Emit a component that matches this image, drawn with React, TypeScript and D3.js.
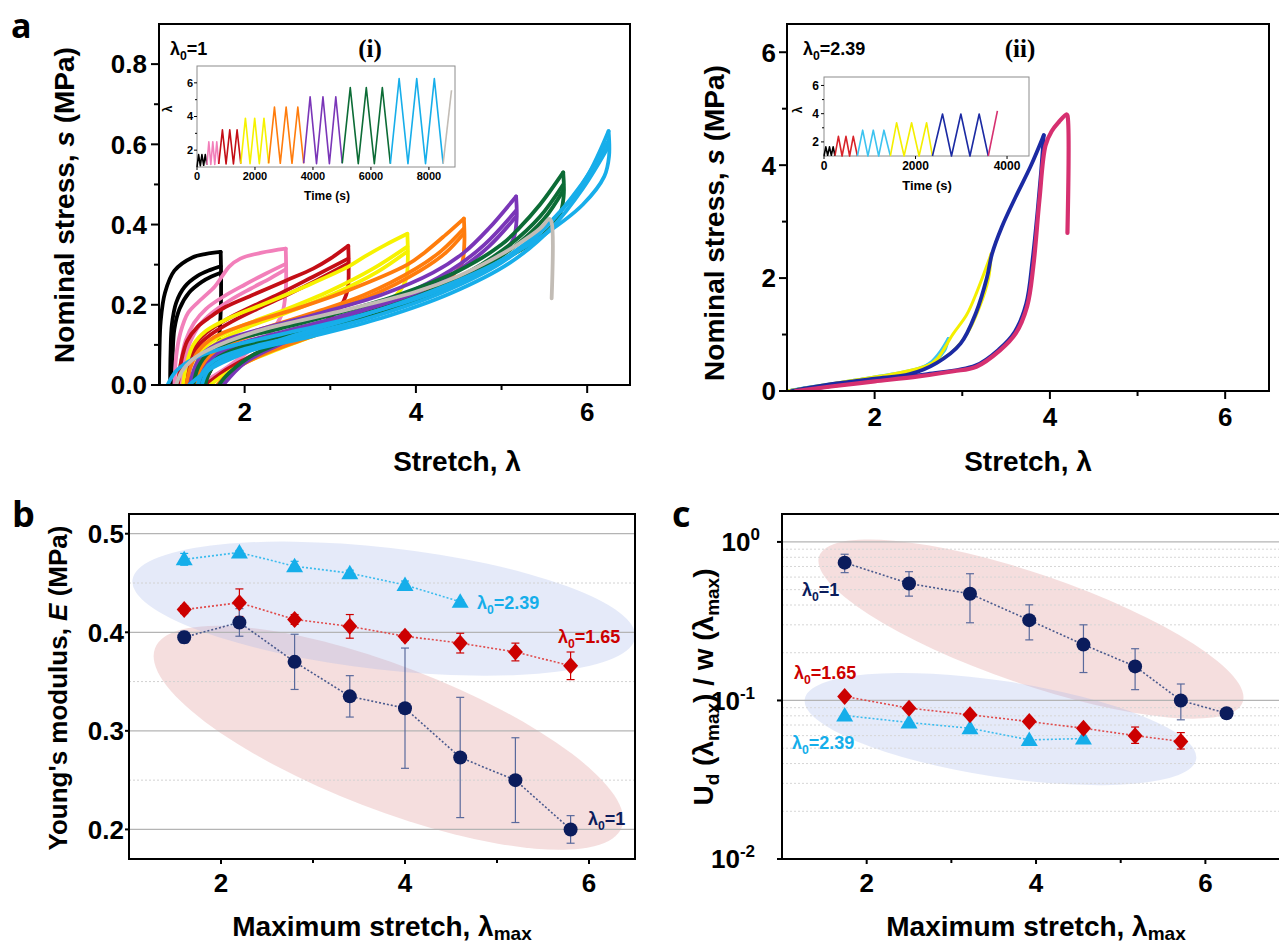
import * as d3 from 'd3'

type Pt = [number, number]

const SANS = '"Liberation Sans", Arial, Helvetica, sans-serif'
const SERIF = '"Liberation Serif", "Times New Roman", serif'

// ---------- a(i): nominal stress vs stretch, λ0 = 1 (load1, load2, load3, unload) ----------
const blackLoopsI: Pt[][] = [
  [[1.0, 0], [1.005, 0.08], [1.02, 0.16], [1.07, 0.23], [1.18, 0.285], [1.39, 0.318], [1.55, 0.327], [1.72, 0.332]],
  [[1.13, 0], [1.135, 0.08], [1.15, 0.15], [1.2, 0.205], [1.3, 0.245], [1.45, 0.272], [1.6, 0.287], [1.72, 0.296]],
  [[1.15, 0], [1.16, 0.08], [1.18, 0.14], [1.24, 0.19], [1.35, 0.23], [1.5, 0.257], [1.62, 0.271], [1.72, 0.28]],
  [[1.72, 0.332], [1.725, 0.27], [1.72, 0.18], [1.69, 0.1], [1.61, 0.04], [1.5, 0]],
]
const pinkLoopsI: Pt[][] = [
  [[1.18, 0], [1.2, 0.07], [1.25, 0.13], [1.34, 0.18], [1.5, 0.215], [1.65, 0.245], [1.74, 0.272], [1.82, 0.295], [1.95, 0.315], [2.2, 0.33], [2.48, 0.34]],
  [[1.23, 0], [1.26, 0.06], [1.31, 0.11], [1.41, 0.155], [1.55, 0.19], [1.75, 0.22], [2.0, 0.25], [2.25, 0.278], [2.48, 0.302]],
  [[1.27, 0], [1.3, 0.06], [1.36, 0.105], [1.47, 0.148], [1.62, 0.18], [1.82, 0.21], [2.07, 0.24], [2.3, 0.266], [2.48, 0.288]],
  [[2.48, 0.34], [2.485, 0.28], [2.48, 0.237], [2.44, 0.18], [2.3, 0.13], [2.05, 0.085], [1.8, 0.045], [1.58, 0.015], [1.46, 0]],
]
const redLoopsI: Pt[][] = [
  [[1.22, 0], [1.26, 0.06], [1.33, 0.11], [1.45, 0.145], [1.6, 0.17], [1.78, 0.195], [2.1, 0.225], [2.48, 0.26], [2.8, 0.29], [3.0, 0.315], [3.21, 0.347]],
  [[1.3, 0], [1.34, 0.055], [1.42, 0.1], [1.55, 0.13], [1.8, 0.165], [2.1, 0.197], [2.45, 0.232], [2.8, 0.27], [3.21, 0.315]],
  [[1.33, 0], [1.37, 0.055], [1.45, 0.095], [1.6, 0.125], [1.85, 0.158], [2.15, 0.19], [2.5, 0.225], [2.85, 0.262], [3.21, 0.303]],
  [[3.21, 0.347], [3.215, 0.29], [3.2, 0.235], [3.1, 0.19], [2.85, 0.145], [2.5, 0.11], [2.1, 0.075], [1.8, 0.04], [1.6, 0.01], [1.52, 0]],
]
const yellowLoopsI: Pt[][] = [
  [[1.28, 0], [1.32, 0.05], [1.4, 0.1], [1.55, 0.135], [1.8, 0.165], [2.2, 0.2], [2.7, 0.245], [3.21, 0.295], [3.4, 0.32], [3.65, 0.35], [3.9, 0.377]],
  [[1.38, 0], [1.43, 0.05], [1.52, 0.09], [1.7, 0.12], [2.0, 0.15], [2.5, 0.19], [3.0, 0.235], [3.5, 0.29], [3.9, 0.345]],
  [[1.41, 0], [1.46, 0.05], [1.56, 0.085], [1.75, 0.115], [2.05, 0.145], [2.55, 0.185], [3.05, 0.228], [3.55, 0.282], [3.9, 0.333]],
  [[3.9, 0.377], [3.905, 0.31], [3.88, 0.26], [3.75, 0.22], [3.4, 0.175], [2.9, 0.13], [2.4, 0.09], [2.0, 0.055], [1.72, 0.02], [1.6, 0]],
]
const orangeLoopsI: Pt[][] = [
  [[1.32, 0], [1.37, 0.045], [1.46, 0.085], [1.65, 0.12], [2.0, 0.15], [2.6, 0.19], [3.2, 0.235], [3.9, 0.3], [4.1, 0.33], [4.35, 0.375], [4.56, 0.415]],
  [[1.42, 0], [1.48, 0.045], [1.58, 0.08], [1.8, 0.11], [2.2, 0.14], [2.8, 0.18], [3.4, 0.225], [4.0, 0.29], [4.3, 0.335], [4.56, 0.39]],
  [[1.45, 0], [1.51, 0.045], [1.62, 0.077], [1.85, 0.105], [2.25, 0.135], [2.85, 0.175], [3.45, 0.22], [4.05, 0.285], [4.35, 0.33], [4.56, 0.378]],
  [[4.56, 0.415], [4.565, 0.35], [4.53, 0.3], [4.35, 0.26], [3.9, 0.21], [3.3, 0.16], [2.7, 0.115], [2.2, 0.075], [1.85, 0.035], [1.68, 0]],
]
const purpleLoopsI: Pt[][] = [
  [[1.36, 0], [1.42, 0.045], [1.52, 0.08], [1.75, 0.11], [2.2, 0.14], [2.9, 0.18], [3.6, 0.225], [4.2, 0.28], [4.56, 0.33], [4.85, 0.39], [5.17, 0.47]],
  [[1.46, 0], [1.53, 0.04], [1.65, 0.072], [1.9, 0.1], [2.4, 0.13], [3.1, 0.17], [3.8, 0.22], [4.4, 0.285], [4.8, 0.35], [5.17, 0.435]],
  [[1.5, 0], [1.57, 0.04], [1.7, 0.07], [1.95, 0.097], [2.45, 0.126], [3.15, 0.166], [3.85, 0.215], [4.45, 0.28], [4.85, 0.345], [5.17, 0.42]],
  [[5.17, 0.47], [5.175, 0.41], [5.13, 0.36], [4.9, 0.31], [4.4, 0.255], [3.7, 0.195], [3.0, 0.145], [2.4, 0.1], [2.0, 0.055], [1.75, 0]],
]
const greenLoopsI: Pt[][] = [
  [[1.4, 0], [1.46, 0.045], [1.58, 0.08], [1.85, 0.11], [2.4, 0.14], [3.1, 0.18], [3.8, 0.225], [4.5, 0.285], [5.0, 0.35], [5.2, 0.39], [5.45, 0.45], [5.72, 0.53]],
  [[1.5, 0], [1.57, 0.04], [1.7, 0.07], [2.0, 0.098], [2.6, 0.13], [3.3, 0.17], [4.0, 0.22], [4.6, 0.28], [5.1, 0.35], [5.45, 0.42], [5.72, 0.5]],
  [[1.54, 0], [1.61, 0.04], [1.75, 0.068], [2.05, 0.095], [2.65, 0.127], [3.35, 0.167], [4.05, 0.216], [4.65, 0.276], [5.15, 0.345], [5.5, 0.415], [5.72, 0.485]],
  [[5.72, 0.53], [5.725, 0.47], [5.67, 0.42], [5.4, 0.36], [4.8, 0.29], [4.1, 0.225], [3.3, 0.17], [2.6, 0.12], [2.1, 0.075], [1.82, 0.03], [1.7, 0]],
]
const cyanLoopsI: Pt[][] = [
  [[1.1, 0], [1.2, 0.035], [1.4, 0.065], [1.8, 0.095], [2.4, 0.125], [3.2, 0.165], [4.0, 0.215], [4.7, 0.275], [5.2, 0.34], [5.72, 0.44], [6.0, 0.52], [6.25, 0.633]],
  [[1.45, 0], [1.52, 0.035], [1.65, 0.062], [2.0, 0.09], [2.7, 0.125], [3.5, 0.17], [4.3, 0.23], [5.0, 0.305], [5.5, 0.39], [5.9, 0.49], [6.25, 0.61]],
  [[1.5, 0], [1.57, 0.035], [1.72, 0.06], [2.1, 0.088], [2.8, 0.122], [3.6, 0.167], [4.4, 0.228], [5.1, 0.305], [5.6, 0.395], [5.95, 0.49], [6.25, 0.595]],
  [[6.25, 0.633], [6.255, 0.57], [6.2, 0.52], [5.95, 0.45], [5.5, 0.375], [4.9, 0.3], [4.2, 0.235], [3.4, 0.175], [2.6, 0.125], [2.0, 0.08], [1.6, 0.04], [1.35, 0]],
]
const failI: Pt[] = [
  [1.2, 0], [1.27, 0.035], [1.4, 0.065], [1.57, 0.087], [2.16, 0.135], [3.0, 0.178], [3.99, 0.232], [4.5, 0.272],
  [4.88, 0.312], [5.2, 0.352], [5.45, 0.39], [5.56, 0.414], [5.585, 0.405], [5.585, 0.216],
]

// inset (i): stretch history [time (s), λ]
const blackHistI: Pt[] = [[0, 1], [55, 1.74], [115, 1.08], [170, 1.74], [230, 1.1], [285, 1.74], [340, 1.12]]
const pinkHistI: Pt[] = [[340, 1.12], [408, 2.49], [477, 1.15], [545, 2.49], [613, 1.15], [682, 2.49], [750, 1.18]]
const redHistI: Pt[] = [[750, 1.18], [877, 3.21], [1003, 1.18], [1130, 3.21], [1257, 1.18], [1383, 3.21], [1510, 1.2]]
const yellowHistI: Pt[] = [[1510, 1.2], [1670, 3.9], [1830, 1.2], [1990, 3.9], [2150, 1.2], [2310, 3.9], [2470, 1.22]]
const orangeHistI: Pt[] = [[2470, 1.22], [2672, 4.56], [2873, 1.22], [3075, 4.56], [3277, 1.22], [3478, 4.56], [3680, 1.22]]
const purpleHistI: Pt[] = [[3680, 1.22], [3902, 5.17], [4123, 1.2], [4345, 5.17], [4567, 1.2], [4788, 5.17], [5010, 1.22]]
const greenHistI: Pt[] = [[5010, 1.22], [5287, 5.72], [5563, 1.2], [5840, 5.72], [6117, 1.2], [6393, 5.72], [6670, 1.2]]
const cyanHistI: Pt[] = [[6670, 1.2], [6973, 6.25], [7277, 1.2], [7580, 6.25], [7883, 1.2], [8187, 6.25], [8490, 1.2]]
const grayHistI: Pt[] = [[8490, 1.2], [8780, 5.56]]

// ---------- a(ii): λ0 = 2.39 ----------
const blackLoopsII: Pt[][] = [
  [[1.0, 0], [1.3, 0.07], [1.65, 0.14]],
  [[1.65, 0.14], [1.4, 0.07], [1.05, 0]],
]
const redLoopsII: Pt[][] = [
  [[1.0, 0], [1.5, 0.1], [2.0, 0.2], [2.39, 0.27]],
  [[2.39, 0.27], [2.0, 0.18], [1.5, 0.08], [1.05, 0]],
]
const cyanLoopsII: Pt[][] = [
  [[1.0, 0], [1.3, 0.08], [1.7, 0.17], [2.0, 0.23], [2.3, 0.3], [2.5, 0.38], [2.65, 0.52], [2.75, 0.7], [2.84, 0.93]],
  [[2.84, 0.93], [2.8, 0.72], [2.7, 0.55], [2.5, 0.4], [2.2, 0.3], [1.8, 0.2], [1.4, 0.09], [1.1, 0]],
]
const yellowLoopsII: Pt[][] = [
  [[1.0, 0], [1.4, 0.1], [1.8, 0.2], [2.2, 0.28], [2.5, 0.37], [2.7, 0.55], [2.89, 1.0], [3.05, 1.35], [3.16, 1.73], [3.33, 2.43]],
  [[3.33, 2.43], [3.3, 2.0], [3.2, 1.5], [3.05, 1.0], [2.85, 0.65], [2.6, 0.45], [2.3, 0.33], [1.9, 0.22], [1.5, 0.11], [1.12, 0]],
]
const blueLoopsII: Pt[][] = [
  [[1.05, 0], [1.5, 0.12], [2.0, 0.22], [2.4, 0.3], [2.71, 0.5], [2.98, 0.84], [3.16, 1.4], [3.28, 2.0], [3.34, 2.43], [3.45, 2.9], [3.61, 3.44], [3.78, 3.98], [3.93, 4.53]],
  [[3.93, 4.53], [3.9, 3.9], [3.86, 3.2], [3.8, 2.3], [3.73, 1.55], [3.6, 1.05], [3.42, 0.74], [3.15, 0.45], [2.6, 0.3], [2.0, 0.2], [1.5, 0.09], [1.15, 0]],
]
const pinkLoadII: Pt[] = [
  [1.1, 0], [1.5, 0.08], [2.0, 0.17], [2.5, 0.26], [2.9, 0.35], [3.16, 0.43], [3.43, 0.72], [3.61, 1.02], [3.74, 1.5],
  [3.81, 2.2], [3.88, 3.38], [3.95, 4.35], [4.02, 4.6], [4.1, 4.76], [4.19, 4.9], [4.2, 4.88], [4.2, 2.8],
]

// inset (ii): stretch history [time (s), λ]
const blackHistII: Pt[] = [[0, 1], [40, 1.65], [80, 1.05], [120, 1.65], [160, 1.05], [200, 1.65], [240, 1.02]]
const redHistII: Pt[] = [[240, 1.02], [315, 2.39], [395, 1.0], [480, 2.39], [560, 1.0], [640, 2.39], [730, 1.0]]
const cyanHistII: Pt[] = [[730, 1.0], [845, 2.83], [960, 1.0], [1077, 2.83], [1195, 1.0], [1310, 2.83], [1450, 1.0]]
const yellowHistII: Pt[] = [[1450, 1.0], [1587, 3.36], [1750, 1.0], [1914, 3.36], [2078, 1.0], [2242, 3.36], [2370, 1.0]]
const blueHistII: Pt[] = [[2370, 1.0], [2590, 3.98], [2786, 1.0], [2991, 3.98], [3190, 1.0], [3391, 3.98], [3590, 1.0]]
const pinkHistII: Pt[] = [[3590, 1.0], [3790, 4.2]]

// ---------- b: Young's modulus vs maximum stretch ----------
const lamB = [1.6, 2.2, 2.8, 3.4, 4.0, 4.6, 5.2, 5.8]
const modB1 = [0.395, 0.41, 0.37, 0.335, 0.323, 0.273, 0.25, 0.2]
const errB1 = [0.006, 0.014, 0.028, 0.021, 0.061, 0.061, 0.043, 0.014]
const modB165 = [0.423, 0.43, 0.413, 0.406, 0.396, 0.389, 0.38, 0.366]
const errB165 = [0.004, 0.014, 0.005, 0.012, 0.004, 0.01, 0.009, 0.014]
const lamB239 = [1.6, 2.2, 2.8, 3.4, 4.0, 4.6]
const modB239 = [0.474, 0.481, 0.467, 0.46, 0.448, 0.431]
const errB239 = [0.006, 0.002, 0.005, 0.003, 0.004, 0.002]

// ---------- c: dissipated energy ratio (log) ----------
const lamC = [1.74, 2.5, 3.22, 3.92, 4.56, 5.17, 5.71, 6.25]
const udC1 = [0.74, 0.547, 0.471, 0.321, 0.225, 0.164, 0.1, 0.083]
const udC1Lo = [0.64, 0.455, 0.309, 0.241, 0.15, 0.117, 0.0755, 0.083]
const udC1Hi = [0.836, 0.649, 0.63, 0.401, 0.3, 0.212, 0.127, 0.083]
const lamC165 = [1.74, 2.5, 3.22, 3.92, 4.56, 5.17, 5.71]
const udC165 = [0.106, 0.0894, 0.0812, 0.0736, 0.0668, 0.06, 0.0551]
const udC165Lo = [0.106, 0.0894, 0.0812, 0.0736, 0.0668, 0.0536, 0.0494]
const udC165Hi = [0.106, 0.0894, 0.0812, 0.0736, 0.0668, 0.068, 0.0627]
const lamC239 = [1.74, 2.5, 3.22, 3.92, 4.56]
const udC239 = [0.0804, 0.0726, 0.0668, 0.0564, 0.0575]

// ---------- scales ----------
const xI = d3.scaleLinear().domain([1, 6.5]).range([159, 630])
const yI = d3.scaleLinear().domain([0, 0.9]).range([385, 24])
const xIn1 = d3.scaleLinear().domain([0, 8900]).range([197, 455])
const yIn1 = d3.scaleLinear().domain([1, 7]).range([167, 66])
const xII = d3.scaleLinear().domain([1, 6.5]).range([787, 1269])
const yII = d3.scaleLinear().domain([0, 6.5]).range([391, 24])
const xIn2 = d3.scaleLinear().domain([0, 4480]).range([824, 1029])
const yIn2 = d3.scaleLinear().domain([1, 6.6]).range([156, 77])
const xB = d3.scaleLinear().domain([1, 6.5]).range([129, 635])
const yB = d3.scaleLinear().domain([0.17, 0.52]).range([859, 514])
const xC = d3.scaleLinear().domain([1, 7.2]).range([782, 1307])
const yC = d3.scaleLog().domain([0.01, 1.5]).range([859, 514])

const NAVY = '#0b1c5c'
const RED = '#cc0000'
const CYAN = '#15aeea'

const mkLine = (sx: any, sy: any, smooth = true) =>
  d3.line<Pt>().x((d) => sx(d[0])).y((d) => sy(d[1])).curve(smooth ? d3.curveCatmullRom.alpha(0.5) : d3.curveLinear)

function XAxis({ sx, y, major, minor = [], fmt, len = 8, mlen = 5, fs = 26, ly, sw = 2 }: any) {
  return (
    <g>
      {major.map((v: number) => (
        <line key={'M' + v} x1={sx(v)} x2={sx(v)} y1={y} y2={y + len} stroke="#000" strokeWidth={sw} />
      ))}
      {minor.map((v: number) => (
        <line key={'m' + v} x1={sx(v)} x2={sx(v)} y1={y} y2={y + mlen} stroke="#000" strokeWidth={sw} />
      ))}
      {major.map((v: number) => (
        <text key={'t' + v} x={sx(v)} y={ly} textAnchor="middle" fontSize={fs} fontWeight="bold" fontFamily={SANS}>
          {fmt(v)}
        </text>
      ))}
    </g>
  )
}

function YAxis({ sy, x, major, minor = [], fmt, len = 8, mlen = 5, fs = 26, lx, sw = 2 }: any) {
  return (
    <g>
      {major.map((v: number) => (
        <line key={'M' + v} x1={x - len} x2={x} y1={sy(v)} y2={sy(v)} stroke="#000" strokeWidth={sw} />
      ))}
      {minor.map((v: number) => (
        <line key={'m' + v} x1={x - mlen} x2={x} y1={sy(v)} y2={sy(v)} stroke="#000" strokeWidth={sw} />
      ))}
      {fmt &&
        major.map((v: number) => (
          <text key={'t' + v} x={lx} y={sy(v)} dy="0.36em" textAnchor="end" fontSize={fs} fontWeight="bold" fontFamily={SANS}>
            {fmt(v)}
          </text>
        ))}
    </g>
  )
}

function Lam0({ x, y, val, color, fs = 18 }: any) {
  return (
    <text x={x} y={y} fill={color} fontSize={fs} fontWeight="bold" fontFamily={SANS}>
      λ<tspan fontSize={fs * 0.68} dy={fs * 0.3}>0</tspan>
      <tspan dy={-fs * 0.3}>={val}</tspan>
    </text>
  )
}

function LoopGroup({ loops, color, sx, sy, w }: any) {
  const line = mkLine(sx, sy)
  return (
    <g fill="none" stroke={color} strokeWidth={w} strokeLinejoin="round" strokeLinecap="round">
      {loops.map((l: Pt[], i: number) => (
        <path key={i} d={line(l) ?? ''} />
      ))}
    </g>
  )
}

function History({ series, sx, sy, w = 1.5 }: any) {
  const line = mkLine(sx, sy, false)
  return (
    <g fill="none" strokeWidth={w} strokeLinejoin="round">
      {series.map((s: any, i: number) => (
        <path key={i} d={line(s.data) ?? ''} stroke={s.color} />
      ))}
    </g>
  )
}

function Markers({ xs, ys, sx, sy, shape, color }: any) {
  return (
    <g fill={color}>
      {xs.map((v: number, i: number) => {
        const cx = sx(v)
        const cy = sy(ys[i])
        if (shape === 'circle') return <circle key={i} cx={cx} cy={cy} r={7} />
        if (shape === 'diamond')
          return <path key={i} d={`M${cx},${cy - 8.5}L${cx + 7.5},${cy}L${cx},${cy + 8.5}L${cx - 7.5},${cy}Z`} />
        return <path key={i} d={`M${cx},${cy - 8.5}L${cx + 8.5},${cy + 6}L${cx - 8.5},${cy + 6}Z`} />
      })}
    </g>
  )
}

function ErrBars({ xs, lo, hi, sx, sy, color }: any) {
  return (
    <g stroke={color} strokeWidth={1.2}>
      {xs.map((v: number, i: number) => {
        const cx = sx(v)
        const y1 = sy(hi[i])
        const y2 = sy(lo[i])
        if (Math.abs(y2 - y1) < 1) return null
        return (
          <g key={i}>
            <line x1={cx} x2={cx} y1={y1} y2={y2} />
            <line x1={cx - 4} x2={cx + 4} y1={y1} y2={y1} />
            <line x1={cx - 4} x2={cx + 4} y1={y2} y2={y2} />
          </g>
        )
      })}
    </g>
  )
}

function DotLine({ xs, ys, sx, sy, color }: any) {
  const pts: Pt[] = xs.map((v: number, i: number) => [v, ys[i]])
  return <path d={mkLine(sx, sy, false)(pts) ?? ''} fill="none" stroke={color} strokeWidth={1.6} strokeDasharray="2 2" />
}

function Ellipse({ cx, cy, rx, ry, angle, fill }: any) {
  return <ellipse cx={cx} cy={cy} rx={rx} ry={ry} fill={fill} transform={`rotate(${angle} ${cx} ${cy})`} />
}

export default function App() {
  const f1 = (v: number) => v.toFixed(1)
  const fI = (v: number) => String(v)
  const colorsI = ['#000000', '#f27fba', '#c40e16', '#f6f200', '#ff7c0c', '#7a36b8', '#0c6c36', '#17aeea']
  const loopsI = [blackLoopsI, pinkLoopsI, redLoopsI, yellowLoopsI, orangeLoopsI, purpleLoopsI, greenLoopsI, cyanLoopsI]
  const histI = [blackHistI, pinkHistI, redHistI, yellowHistI, orangeHistI, purpleHistI, greenHistI, cyanHistI, grayHistI].map(
    (data, i) => ({ data, color: i < 8 ? colorsI[i] : '#c2bcb5' })
  )
  const colorsII = ['#000000', '#d8232a', '#3dc3f0', '#f4ef00', '#1b2aa3']
  const loopsII = [blackLoopsII, redLoopsII, cyanLoopsII, yellowLoopsII, blueLoopsII]
  const histII = [blackHistII, redHistII, cyanHistII, yellowHistII, blueHistII, pinkHistII].map((data, i) => ({
    data,
    color: i < 5 ? colorsII[i] : '#d63070',
  }))

  const bBluePt = [xB(3.77), yB(0.424)]
  const bPinkPt = [xB(3.82), yB(0.293)]
  const cPinkPt = [xC(3.94), yC(0.282)]
  const cBluePt = [xC(3.58), yC(0.066)]

  const cMinor: number[] = []
  for (const dec of [0.01, 0.1]) for (let k = 2; k <= 9; k++) cMinor.push(dec * k)

  return (
    <svg
      width={1279}
      height={946}
      style={{ position: 'absolute', left: 0, top: 0, display: 'block', background: '#fff' }}
      fontFamily={SANS}
    >
      <defs>
        <clipPath id="clipI">
          <rect x={159} y={24} width={471} height={361} />
        </clipPath>
        <clipPath id="clipII">
          <rect x={787} y={24} width={482} height={367} />
        </clipPath>
        <clipPath id="clipB">
          <rect x={129} y={514} width={506} height={345} />
        </clipPath>
        <clipPath id="clipC">
          <rect x={782} y={514} width={525} height={345} />
        </clipPath>
      </defs>

      {/* panel letters */}
      <text x={11} y={38} fontSize={34} fontWeight="bold" fontFamily='"Open Sans", sans-serif'>a</text>
      <text x={12} y={527} fontSize={36} fontWeight="bold" fontFamily='"Open Sans", sans-serif'>b</text>
      <text x={672} y={527} fontSize={36} fontWeight="bold" fontFamily='"Open Sans", sans-serif'>c</text>

      {/* ===== a(i) ===== */}
      <g clipPath="url(#clipI)">
        {loopsI.map((l, i) => (
          <LoopGroup key={i} loops={l} color={colorsI[i]} sx={xI} sy={yI} w={3.8} />
        ))}
        <LoopGroup loops={[failI]} color="#c2bcb5" sx={xI} sy={yI} w={3.8} />
      </g>
      <rect x={159} y={24} width={471} height={361} fill="none" stroke="#000" strokeWidth={2} />
      <XAxis sx={xI} y={385} major={[2, 4, 6]} minor={[3, 5]} fmt={fI} ly={421} />
      <YAxis sy={yI} x={159} major={[0, 0.2, 0.4, 0.6, 0.8]} minor={[0.1, 0.3, 0.5, 0.7]} fmt={f1} lx={147} />
      <text transform="translate(64,205) rotate(-90)" dy="0.36em" textAnchor="middle" fontSize={28} fontWeight="bold">
        Nominal stress, <tspan fontStyle="italic">s</tspan> (MPa)
      </text>
      <text x={457} y={471} textAnchor="middle" fontSize={28} fontWeight="bold">Stretch, λ</text>
      <Lam0 x={170} y={55} val="1" color="#000" />
      <text x={370} y={57} textAnchor="middle" fontSize={25} fontWeight="bold" fontFamily={SERIF}>(i)</text>

      {/* inset (i) */}
      <rect x={197} y={66} width={258} height={101} fill="#fff" stroke="#8c8c8c" strokeWidth={1} />
      <History series={histI} sx={xIn1} sy={yIn1} w={1.6} />
      <XAxis sx={xIn1} y={167} major={[0, 2000, 4000, 6000, 8000]} fmt={fI} len={3} fs={11} ly={180} sw={1} />
      <YAxis sy={yIn1} x={197} major={[2, 4, 6]} minor={[3, 5]} fmt={fI} len={3} mlen={2} fs={11} lx={193} sw={1} />
      <text x={327} y={200} textAnchor="middle" fontSize={12} fontWeight="bold">Time (s)</text>
      <text transform="translate(168,109) rotate(-90)" dy="0.36em" textAnchor="middle" fontSize={12} fontWeight="bold">λ</text>

      {/* ===== a(ii) ===== */}
      <g clipPath="url(#clipII)">
        {loopsII.map((l, i) => (
          <LoopGroup key={i} loops={l} color={colorsII[i]} sx={xII} sy={yII} w={i === 4 ? 3.8 : 3} />
        ))}
        <LoopGroup loops={[pinkLoadII]} color="#d63070" sx={xII} sy={yII} w={4.2} />
      </g>
      <rect x={787} y={24} width={482} height={367} fill="none" stroke="#000" strokeWidth={2} />
      <XAxis sx={xII} y={391} major={[2, 4, 6]} minor={[3, 5]} fmt={fI} ly={426} />
      <YAxis sy={yII} x={787} major={[0, 2, 4, 6]} minor={[1, 3, 5]} fmt={fI} lx={776} />
      <text transform="translate(714,223) rotate(-90)" dy="0.36em" textAnchor="middle" fontSize={28} fontWeight="bold">
        Nominal stress, <tspan fontStyle="italic">s</tspan> (MPa)
      </text>
      <text x={1028} y={471} textAnchor="middle" fontSize={28} fontWeight="bold">Stretch, λ</text>
      <Lam0 x={803} y={55} val="2.39" color="#000" />
      <text x={1020} y={57} textAnchor="middle" fontSize={25} fontWeight="bold" fontFamily={SERIF}>(ii)</text>

      {/* inset (ii) */}
      <rect x={824} y={77} width={205} height={79} fill="#fff" stroke="#8c8c8c" strokeWidth={1} />
      <History series={histII} sx={xIn2} sy={yIn2} w={1.6} />
      <XAxis sx={xIn2} y={156} major={[0, 2000, 4000]} fmt={fI} len={3} fs={12} ly={170} sw={1} />
      <YAxis sy={yIn2} x={824} major={[2, 4, 6]} minor={[3, 5]} fmt={fI} len={3} mlen={2} fs={12} lx={819} sw={1} />
      <text x={927} y={190} textAnchor="middle" fontSize={13} fontWeight="bold">Time (s)</text>
      <text transform="translate(798,110) rotate(-90)" dy="0.36em" textAnchor="middle" fontSize={12} fontWeight="bold">λ</text>

      {/* ===== b ===== */}
      <g clipPath="url(#clipB)">
        <Ellipse cx={bPinkPt[0]} cy={bPinkPt[1]} rx={250} ry={72} angle={21} fill="rgba(226,160,160,0.35)" />
        <Ellipse cx={bBluePt[0]} cy={bBluePt[1]} rx={253} ry={61} angle={6.5} fill="rgba(160,178,232,0.28)" />
        {[0.2, 0.3, 0.4, 0.5].map((v) => (
          <line key={v} x1={129} x2={635} y1={yB(v)} y2={yB(v)} stroke="#b4b4b4" strokeWidth={1.3} />
        ))}
        {[0.25, 0.35, 0.45].map((v) => (
          <line key={v} x1={129} x2={635} y1={yB(v)} y2={yB(v)} stroke="#d2d2d2" strokeWidth={1} strokeDasharray="2 2" />
        ))}
        <DotLine xs={lamB239} ys={modB239} sx={xB} sy={yB} color="#3cbcee" />
        <DotLine xs={lamB} ys={modB165} sx={xB} sy={yB} color="#e04a4a" />
        <DotLine xs={lamB} ys={modB1} sx={xB} sy={yB} color="#4a5a8e" />
        <ErrBars xs={lamB239} lo={modB239.map((v, i) => v - errB239[i])} hi={modB239.map((v, i) => v + errB239[i])} sx={xB} sy={yB} color={CYAN} />
        <ErrBars xs={lamB} lo={modB165.map((v, i) => v - errB165[i])} hi={modB165.map((v, i) => v + errB165[i])} sx={xB} sy={yB} color={RED} />
        <ErrBars xs={lamB} lo={modB1.map((v, i) => v - errB1[i])} hi={modB1.map((v, i) => v + errB1[i])} sx={xB} sy={yB} color="#5a6a9c" />
        <Markers xs={lamB239} ys={modB239} sx={xB} sy={yB} shape="triangle" color={CYAN} />
        <Markers xs={lamB} ys={modB165} sx={xB} sy={yB} shape="diamond" color={RED} />
        <Markers xs={lamB} ys={modB1} sx={xB} sy={yB} shape="circle" color={NAVY} />
      </g>
      <rect x={129} y={514} width={506} height={345} fill="none" stroke="#000" strokeWidth={2} />
      <XAxis sx={xB} y={859} major={[2, 4, 6]} minor={[3, 5]} fmt={fI} len={5} mlen={4} ly={892} />
      <YAxis sy={yB} x={129} major={[0.2, 0.3, 0.4, 0.5]} fmt={f1} len={4} lx={124} />
      <Lam0 x={477} y={609} val="2.39" color={CYAN} />
      <Lam0 x={558} y={643} val="1.65" color={RED} />
      <Lam0 x={588} y={825} val="1" color={NAVY} />
      <text transform="translate(58,688) rotate(-90)" dy="0.36em" textAnchor="middle" fontSize={26} fontWeight="bold">
        Young's modulus, <tspan fontStyle="italic">E</tspan> (MPa)
      </text>
      <text x={382} y={936} textAnchor="middle" fontSize={28} fontWeight="bold">
        Maximum stretch, λ<tspan fontSize={19} dy={4}>max</tspan>
      </text>

      {/* ===== c ===== */}
      <g clipPath="url(#clipC)">
        <Ellipse cx={cPinkPt[0]} cy={cPinkPt[1]} rx={224} ry={55} angle={19} fill="rgba(226,160,160,0.35)" />
        <Ellipse cx={cBluePt[0]} cy={cBluePt[1]} rx={198} ry={48} angle={8.7} fill="rgba(160,178,232,0.28)" />
        {[1, 0.1].map((v) => (
          <line key={v} x1={782} x2={1307} y1={yC(v)} y2={yC(v)} stroke="#b4b4b4" strokeWidth={1.3} />
        ))}
        {cMinor.map((v) => (
          <line key={v} x1={782} x2={1307} y1={yC(v)} y2={yC(v)} stroke="#d6d6d6" strokeWidth={1} strokeDasharray="2 2" />
        ))}
        <DotLine xs={lamC239} ys={udC239} sx={xC} sy={yC} color="#3cbcee" />
        <DotLine xs={lamC165} ys={udC165} sx={xC} sy={yC} color="#e04a4a" />
        <DotLine xs={lamC} ys={udC1} sx={xC} sy={yC} color="#4a5a8e" />
        <ErrBars xs={lamC165} lo={udC165Lo} hi={udC165Hi} sx={xC} sy={yC} color={RED} />
        <ErrBars xs={lamC} lo={udC1Lo} hi={udC1Hi} sx={xC} sy={yC} color="#5a6a9c" />
        <Markers xs={lamC239} ys={udC239} sx={xC} sy={yC} shape="triangle" color={CYAN} />
        <Markers xs={lamC165} ys={udC165} sx={xC} sy={yC} shape="diamond" color={RED} />
        <Markers xs={lamC} ys={udC1} sx={xC} sy={yC} shape="circle" color={NAVY} />
      </g>
      <rect x={782} y={514} width={525} height={345} fill="none" stroke="#000" strokeWidth={2} />
      <XAxis sx={xC} y={859} major={[2, 4, 6]} minor={[3, 5]} fmt={fI} len={5} mlen={4} ly={892} />
      <YAxis sy={yC} x={782} major={[0.01, 0.1, 1]} len={5} />
      {[
        [1, '0'],
        [0.1, '-1'],
        [0.01, '-2'],
      ].map(([v, e]) => (
        <text key={String(v)} x={e === '0' ? 760 : 755} y={yC(v as number)} dy="0.36em" textAnchor="end" fontSize={26} fontWeight="bold">
          10<tspan fontSize={17} dy={-11}>{e}</tspan>
        </text>
      ))}
      <Lam0 x={802} y={596} val="1" color={NAVY} />
      <Lam0 x={794} y={679} val="1.65" color={RED} />
      <Lam0 x={792} y={749} val="2.39" color={CYAN} />
      <text transform="translate(703,687) rotate(-90)" dy="0.36em" textAnchor="middle" fontSize={28} fontWeight="bold">
        U<tspan fontSize={19} dy={6}>d</tspan>
        <tspan dy={-6}> (λ</tspan>
        <tspan fontSize={19} dy={6}>max</tspan>
        <tspan dy={-6}>) / w (λ</tspan>
        <tspan fontSize={19} dy={6}>max</tspan>
        <tspan dy={-6}>)</tspan>
      </text>
      <text x={1036} y={936} textAnchor="middle" fontSize={28} fontWeight="bold">
        Maximum stretch, λ<tspan fontSize={19} dy={4}>max</tspan>
      </text>
    </svg>
  )
}
